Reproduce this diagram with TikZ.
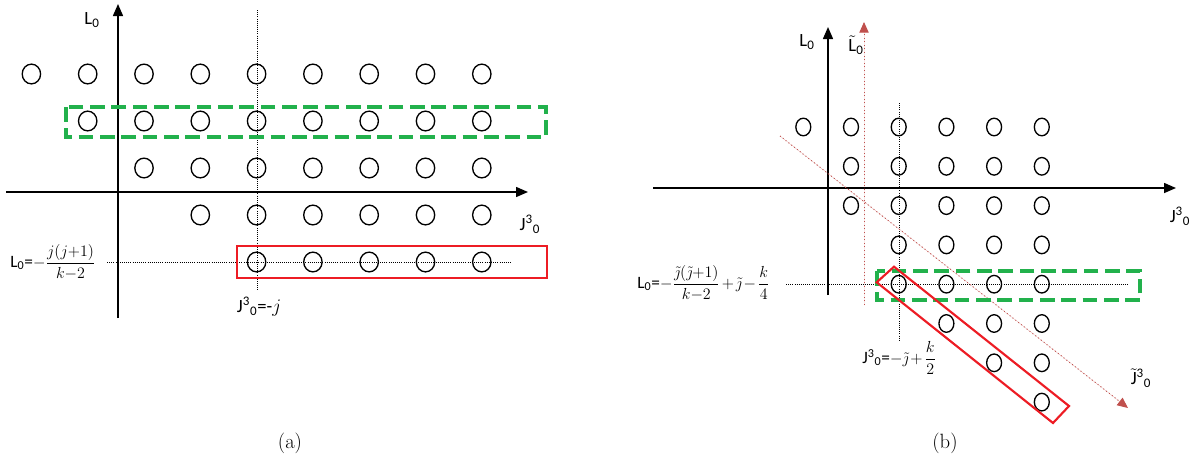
\documentclass[tikz,border=0pt]{standalone}
\usepackage{amsmath}
\usepackage{fontspec}
\newfontfamily\calib{Carlito}
\usetikzlibrary{arrows.meta}
\definecolor{grn}{RGB}{34,177,76}
\definecolor{rdd}{RGB}{237,28,36}
\definecolor{drd}{RGB}{192,80,77}
\begin{document}
\begin{tikzpicture}[x=0.75pt,y=-0.75pt,
  axis/.style={line width=1.1pt,-{Triangle[length=9pt,width=7.5pt]}},
  guide/.style={densely dotted,line width=0.6pt},
  ring/.style={line width=1pt},
  lbl/.style={font=\calib\fontsize{14}{16}\selectfont,inner sep=0pt},
  frm/.style={font=\calib\fontsize{13}{15}\selectfont,inner sep=0pt},
  captxt/.style={font=\fontsize{15.5}{18}\selectfont,inner sep=0pt},
  greenbox/.style={draw=grn,line width=2.5pt,dash pattern=on 11pt off 5pt},
  redbox/.style={draw=rdd,line width=2pt},
  daxis/.style={draw=drd,dotted,line width=0.7pt,-{Triangle[length=8pt,width=7pt]},fill=drd}]
\useasboundingbox (0,0) rectangle (1191,461);
% ---------- panel (a) ----------
\coordinate (av0) at (118,318); \coordinate (av1) at (118,4);
\coordinate (ah0) at (6,192);   \coordinate (ah1) at (528,192);
\draw[guide] (257,10) -- (257,290);
\draw[guide] (107,262) -- (512,262);
\draw[axis] (av0) -- (av1);
\draw[axis] (ah0) -- (ah1);
\foreach \r in {1,...,5}
  \foreach \c in {\r,...,9}
    \draw[ring] ({31.4+56.3*(\c-1)},{74+47*(\r-1)}) ellipse [x radius=6.9pt,y radius=7.4pt];
\draw[greenbox] (66,107) rectangle (546,137);
\draw[redbox] (237,246) rectangle (547,278);
\node[lbl] (la) at (92,20) {L\textsubscript{0}};
\node[lbl] (ja) at (530,224) {J\textsuperscript{3}\textsubscript{0}};
\node[frm,anchor=west] (fa) at (10,262) {L\textsubscript{0}=$\displaystyle\medmuskip=2mu\relax-\frac{j(j{+}1)}{k{-}2}$};
\node[lbl] (va) at (259,307) {J\textsuperscript{3}\textsubscript{0}=-$j$};
\node[captxt] (ca) at (290,443) {(a)};
% ---------- panel (b) ----------
\coordinate (bv0) at (828,295); \coordinate (bv1) at (828,27);
\coordinate (bh0) at (653,188); \coordinate (bh1) at (1176,188);
\coordinate (tv0) at (864,305); \coordinate (tv1) at (864,22);
\coordinate (td0) at (780,136); \coordinate (td1) at (1128,408);
\draw[guide] (899,103) -- (899,340);
\draw[guide] (786,284) -- (1128,284);
\draw[axis] (bv0) -- (bv1);
\draw[axis] (bh0) -- (bh1);
\draw[daxis] (tv0) -- (tv1);
\draw[daxis] (td0) -- (td1);
\foreach \r/\s in {1/1,2/2,3/2,4/3,5/3,6/4,7/5,8/6}
  \foreach \c in {\s,...,6}
    \draw[ring] ({803.3+47.7*(\c-1)},{127+39.3*(\r-1)}) ellipse [x radius=5.6pt,y radius=6.6pt];
\draw[greenbox] (877,271) rectangle (1140,300);
\draw[redbox,line width=1.6pt] (894,266.7) -- (1069,406) -- (1053,423) -- (876.7,282.3) -- cycle;
\node[lbl] (lb) at (807,42) {L\textsubscript{0}};
\node[lbl] (ltb) at (856,45) {$\tilde{\mbox{L}}$\textsubscript{0}};
\node[lbl] (jb) at (1180,216) {J\textsuperscript{3}\textsubscript{0}};
\node[lbl] (jtb) at (1141,378) {$\tilde{\mbox{J}}$\textsuperscript{3}\textsubscript{0}};
\node[frm,anchor=east] (fb) at (770,283) {L\textsubscript{0}=$\displaystyle\medmuskip=2mu\relax-\frac{\tilde\jmath(\tilde\jmath{+}1)}{k{-}2}+\tilde\jmath-\frac{k}{4}$};
\node[frm,anchor=west] (vb) at (862,358) {J\textsuperscript{3}\textsubscript{0}=$\displaystyle\medmuskip=2mu\relax-\tilde\jmath+\frac{k}{2}$};
\node[captxt] (cb) at (945,443) {(b)};
\end{tikzpicture}
\end{document}
